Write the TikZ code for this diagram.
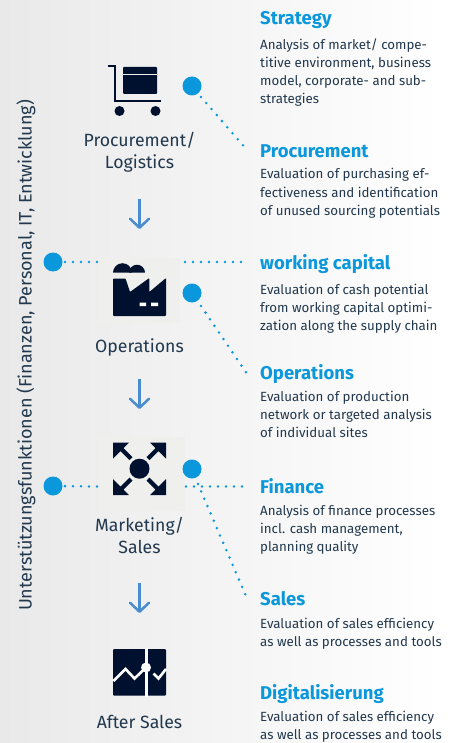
\documentclass[tikz,border=0pt]{standalone}
\usepackage{fontspec}
\setmainfont{Fira Sans}
\usetikzlibrary{arrows.meta}
\definecolor{ink}{HTML}{00112F}
\definecolor{txt}{HTML}{22384E}
\definecolor{dotblue}{HTML}{0A97DC}
\definecolor{arrowblue}{HTML}{4A8DCE}
\definecolor{halo}{HTML}{EFF0EE}
\definecolor{bgleft}{HTML}{E8E9E8}
\tikzset{
  x=1pt,y=-1pt,
  hub/.style={circle,fill=dotblue,minimum size=19pt,inner sep=0pt},
  dots/.style={draw=dotblue,line width=2.8pt,line cap=round,dash pattern=on 0pt off 8pt},
  flow/.style={draw=arrowblue,line width=2.5pt,-{Straight Barb[length=9pt,width=19pt,line width=2.5pt,round]}},
  head/.style={anchor=base west,inner sep=0pt,text=dotblue,font=\fontsize{18.5}{18.5}\selectfont\bfseries},
  body/.style={anchor=base west,inner sep=0pt,text=txt,font=\fontsize{13.3}{18}\selectfont,align=left},
  step label/.style={anchor=base,inner sep=0pt,text=txt,font=\fontsize{17.7}{22}\selectfont,align=center},
}
\begin{document}
\begin{tikzpicture}
\useasboundingbox (0,0) rectangle (459,743);
\fill[white] (0,0) rectangle (459,743);
\shade[left color=bgleft,right color=white,shading angle=90] (0,0) rectangle (440,743);
\fill[halo] (98,258) rectangle (180,323);
\fill[halo] (98,437) rectangle (185,511);

% cart
\draw[ink,line width=2pt] (108,66.5) -- (115,66.5) -- (115,101) -- (161,101);
\fill[ink,rounded corners=1pt] (123,67) rectangle (157,94);
\draw[halo,line width=1pt] (123,74.5) -- (157,74.5);
\fill[ink] (119.5,111) circle (5) (155.5,111) circle (5);
% factory
\fill[ink,rounded corners=.8pt] (113,278.5) -- (125.5,278.5) -- (130,292) -- (149.3,278) -- (149.3,292) -- (166,278) -- (166,316) -- (113,316) -- cycle;
\fill[ink] (113,272.7) arc[start angle=180,end angle=360,radius=9.5] -- cycle;
\fill[ink] (129,272.7) arc[start angle=180,end angle=360,radius=8] -- cycle;
\fill[white] (139.5,302.5) rectangle (146,306) (151,302.5) rectangle (158,306);
% marketing
\fill[ink] (139.5,468.7) circle (10);
\foreach \sx/\sy/\cx/\cy in {1/1/113/442.5,-1/1/166/442.5,1/-1/113/495,-1/-1/166/495}{
  \fill[ink] (\cx,\cy) -- ++(\sx*16,0) -- ++(\sx*-5.5,\sy*5.5) -- ++(\sx*9,\sy*9) -- ++(\sx*-3,\sy*3) -- ++(\sx*-9,\sy*-9) -- ++(\sx*-7.5,\sy*7.5) -- cycle;
}
% after sales
\fill[ink,rounded corners=1pt] (113,649) rectangle (166,695.7);
\draw[white,line width=3pt] (146,648) -- (146,696.5);
\draw[white,line width=2.6pt] (113.5,681) -- (125.5,669) -- (134.5,678.5) -- (146,667.5);
\draw[white,line width=2.6pt] (153.5,673.5) -- (158.5,678.5) -- (166,669);
\fill[white] (146,667.5) circle (5);

% hubs
\node[hub] (h1) at (192,86) {};
\node[hub] (h2) at (53,262) {};
\node[hub] (h3) at (192,293) {};
\node[hub] (h4) at (53,486) {};
\node[hub] (h5) at (192,469) {};
\coordinate (e1) at (244.5,147);
\coordinate (e2) at (97,262);
\coordinate (s3) at (185,262);
\coordinate (e3) at (246.5,262);
\coordinate (e4) at (246.5,373);
\coordinate (e5) at (97,486.5);
\coordinate (s6) at (186,486.5);
\coordinate (e6) at (246.5,486.5);
\coordinate (s7) at (198,484);
\coordinate (e7) at (246,596);
\draw[dots] (201,97) -- (e1);
\draw[dots] (e2) -- (h2);
\draw[dots] (s3) -- (e3);
\draw[dots] (201,306) -- (e4);
\draw[dots] (e5) -- (h4);
\draw[dots] (s6) -- (e6);
\draw[dots] (s7) -- (e7);

% step labels
\node[step label] (l1) at (139.5,169) {Procurement/\\Logistics};
\node[step label] (l2) at (139.5,352) {Operations};
\node[step label] (l3) at (139.5,553) {Marketing/\\Sales};
\node[step label] (l4) at (139.5,728) {After Sales};
\coordinate (a1s) at (139.5,199); \coordinate (a1e) at (139.5,229);
\coordinate (a2s) at (139.5,379); \coordinate (a2e) at (139.5,409);
\coordinate (a3s) at (139.5,583); \coordinate (a3e) at (139.5,613);
\draw[flow] (a1s) -- (a1e);
\draw[flow] (a2s) -- (a2e);
\draw[flow] (a3s) -- (a3e);

\node[rotate=90,inner sep=0pt,text=txt,font=\fontsize{18}{18}\selectfont] (side) at (26,355.5) {Unterstützungsfunktionen (Finanzen, Personal, IT, Entwicklung)};

% right column
\node[head] (t1) at (260,25) {Strategy};
\node[body] (b1) at (260,104) {Analysis of market/ compe-\\titive environment, business\\model, corporate- and sub-\\strategies};
\node[head] (t2) at (260,158) {Procurement};
\node[body] (b2) at (260,215) {Evaluation of purchasing ef-\\fectiveness and identification\\of unused sourcing potentials};
\node[head] (t3) at (260,269) {working capital};
\node[body] (b3) at (260,330) {Evaluation of cash potential\\from working capital optimi-\\zation along the supply chain};
\node[head] (t4) at (260,379) {Operations};
\node[body] (b4) at (260,437) {Evaluation of production\\network or targeted analysis\\of individual sites};
\node[head] (t5) at (260,493) {Finance};
\node[body] (b5) at (260,551) {Analysis of finance processes\\incl. cash management,\\planning quality};
\node[head] (t6) at (260,605) {Sales};
\node[body] (b6) at (260,646) {Evaluation of sales efficiency\\as well as processes and tools};
\node[head] (t7) at (260,699) {Digitalisierung};
\node[body] (b7) at (260,739) {Evaluation of sales efficiency\\as well as processes and tools};
\end{tikzpicture}
\end{document}
